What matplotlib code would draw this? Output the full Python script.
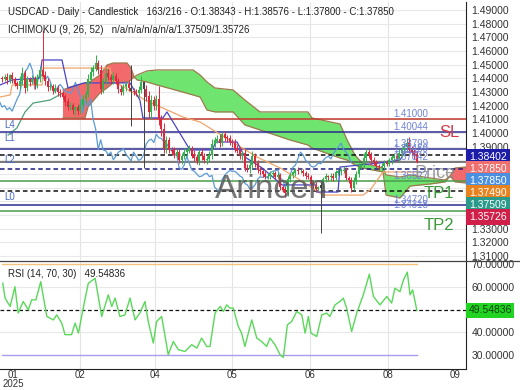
import numpy as np
import matplotlib
matplotlib.use("Agg")
import matplotlib.pyplot as plt

plt.rcParams['font.family'] = ['Liberation Sans', 'DejaVu Sans']

## ================================================================================================
## DATA (prices in 1e-4 above 1.0000)
## ================================================================================================
closes = [4395, 4410, 4385, 4420, 4395, 4360, 4345, 4380, 4440, 4330,
          4395, 4370, 4395, 4350, 4400, 4455, 4420, 4380, 4335, 4345,
          4310, 4325, 4300, 4290, 4265, 4230, 4190, 4200, 4170, 4185,
          4160, 4205, 4250, 4285, 4390, 4445, 4470, 4510, 4460, 4320,
          4375, 4440, 4410, 4385, 4415, 4380, 4320, 4300, 4335, 4355,
          4330, 4305, 4300, 4290, 4315, 4370, 4320, 4265, 4150, 4240,
          4195, 4250, 4100, 4030, 3880, 3950, 3875, 3870, 3840, 3860,
          3805, 3830, 3860, 3870, 3885, 3845, 3820, 3795, 3860, 3830,
          3800, 3810, 3840, 3920, 3945, 3955, 3930, 3990, 3965, 3960,
          3935, 3925, 3890, 3870, 3835, 3850, 3745, 3735, 3765, 3830,
          3780, 3730, 3720, 3700, 3680, 3685, 3700, 3705, 3680, 3690,
          3605, 3585, 3560, 3660, 3690, 3710, 3725, 3720, 3720, 3705,
          3685, 3675, 3630, 3620, 3590, 3600, 3620, 3660, 3680, 3675,
          3685, 3670, 3710, 3720, 3725, 3730, 3670, 3655, 3600, 3650,
          3700, 3750, 3765, 3815, 3860, 3840, 3800, 3785, 3760, 3750,
          3760, 3780, 3775, 3800, 3820, 3830, 3810, 3850, 3875, 3900,
          3925, 3880, 3860, 3834, 3785]
first_open = 4400
up_wick = [15, 20, 30, 12, 25, 18, 22, 35, 40, 20,
           25, 15, 30, 20, 28, 35, 298, 30, 25, 20,
           15, 30, 25, 20, 18, 22, 25, 30, 20, 15,
           25, 40, 30, 20, 45, 35, 30, 60, 25, 40,
           30, 35, 25, 20, 30, 25, 20, 30, 25, 20,
           35, 168, 25, 20, 30, 45, 5, 30, 40, 35,
           30, 25, 90, 30, 40, 30, 20, 25, 30, 20,
           25, 20, 30, 15, 25, 20, 30, 25, 20, 30,
           25, 20, 30, 35, 25, 30, 40, 20, 25, 20,
           25, 20, 30, 20, 25, 20, 30, 25, 20, 35,
           20, 25, 20, 15, 20, 25, 20, 15, 20, 25,
           20, 15, 20, 25, 20, 15, 20, 25, 20, 15,
           20, 25, 15, 20, 25, 15, 20, 20, 25, 15,
           20, 25, 20, 15, 20, 25, 20, 15, 20, 25,
           25, 30, 25, 35, 30, 25, 20, 25, 20, 15,
           20, 25, 20, 15, 20, 25, 20, 30, 25, 30,
           35, 45, 25, 20, 24]
down_wick = [20, 15, 25, 20, 30, 15, 20, 25, 30, 40,
             20, 25, 15, 30, 20, 25, 10, 30, 25, 20,
             25, 20, 30, 25, 20, 30, 25, 20, 30, 35,
             25, 20, 25, 30, 20, 25, 30, 20, 25, 35,
             30, 25, 20, 30, 25, 20, 30, 25, 20, 30,
             25, 254, 25, 20, 30, 25, 576, 30, 40, 45,
             30, 25, 40, 50, 30, 25, 20, 30, 25, 20,
             25, 30, 20, 25, 20, 30, 25, 20, 30, 25,
             20, 25, 20, 30, 25, 20, 30, 25, 20, 25,
             20, 25, 30, 20, 25, 30, 25, 20, 30, 25,
             30, 20, 25, 20, 15, 20, 25, 20, 15, 20,
             25, 20, 30, 20, 15, 20, 25, 20, 15, 20,
             20, 15, 20, 25, 20, 15, 330, 20, 15, 20,
             25, 20, 15, 20, 25, 20, 15, 20, 30, 20,
             25, 20, 15, 20, 25, 20, 25, 20, 15, 20,
             25, 20, 15, 20, 25, 20, 15, 20, 25, 20,
             30, 25, 20, 25, 5]
dark_bars = [51, 56, 126]

# Ichimoku lines (bar index, price)
tenkan_x = [-0.8, 4.0, 15.0, 15.8, 23.7, 26.1, 32.4, 50.6, 54.5, 55.7, 63.6, 65.2, 74.3, 83.0,
            84.6, 92.9, 96.0, 102.8, 110.7, 124.1, 124.5, 132.8, 133.6, 149.4, 157.3, 159.3, 164.4]
tenkan_y = [1.4351, 1.4388, 1.4402, 1.4534, 1.4534, 1.4329, 1.4366, 1.4366, 1.4241, 1.4110, 1.4110,
            1.4154, 1.3876, 1.3876, 1.3934, 1.3934, 1.3824, 1.3744, 1.3620, 1.3620, 1.3568, 1.3568,
            1.3751, 1.3781, 1.3802, 1.3861, 1.3861]
kijun_x = [-0.8, 3.2, 4.0, 15.8, 16.2, 42.7, 43.5, 56.5, 71.5, 78.3, 100.8, 109.9, 117.8, 126.9,
           142.7, 145.5, 150.6, 164.4]
kijun_y = [1.4263, 1.4278, 1.4351, 1.4351, 1.4475, 1.4475, 1.4388, 1.4241, 1.4117, 1.4080, 1.3824,
           1.3744, 1.3656, 1.3546, 1.3546, 1.3583, 1.3715, 1.3715]
lead_x = [2.4, 5.9, 9.1, 12.3, 19.0, 24.1]
lead_y = [1.3985, 1.4037, 1.4154, 1.4219, 1.4241, 1.4293]
cloud_x = [24.1, 26.9, 32.8, 34.0, 38.7, 41.5, 43.9, 49.4, 51.0, 52.2, 53.4, 57.3, 61.3, 68.4, 75.5,
           78.3, 81.0, 84.2, 91.3, 96.0, 102.0, 113.8, 120.9, 122.5, 133.6, 136.4, 139.5, 142.3,
           150.6, 151.8, 157.3, 161.3, 169.2, 175.1, 177.1, 179.1, 183.4]
span_a = [1.4110, 1.4110, 1.4110, 1.4190, 1.4293, 1.4329, 1.4366, 1.4373, 1.4388, 1.4410, 1.4424,
          1.4454, 1.4461, 1.4461, 1.4461, 1.4424, 1.4373, 1.4329, 1.4315, 1.4241, 1.4154, 1.4154,
          1.4154, 1.4110, 1.4066, 1.3949, 1.3839, 1.3781, 1.3744, 1.3693, 1.3678, 1.3693, 1.3671,
          1.3656, 1.3685, 1.3642, 1.3634]
span_b = [1.4315, 1.4336, 1.4366, 1.4366, 1.4424, 1.4497, 1.4512, 1.4512, 1.4475, 1.4410, 1.4388,
          1.4373, 1.4351, 1.4315, 1.4278, 1.4263, 1.4168, 1.4154, 1.4154, 1.4059, 1.4022, 1.3949,
          1.3912, 1.3890, 1.3817, 1.3802, 1.3766, 1.3744, 1.3715, 1.3546, 1.3525, 1.3612, 1.3627,
          1.3642, 1.3685, 1.3744, 1.3751]

# Horizontal levels
levels = [1.41000, 1.40044, 1.38799, 1.38402, 1.37850, 1.37400, 1.36460, 1.35726, 1.34720, 1.34318]
level_colors = ['#c0392b', '#2b2b8f', '#2b2b8f', '#111111', '#555555', '#1a1a80', '#4c9c4c',
                '#111111', '#2b2b8f', '#4c9c4c']
level_styles = ['-', '-', '-', '--', '-', '--', '-', '--', '-', '-']
level_texts = ['1.41000', '1.40044', '1.38799', '1.38459', '1.37842', '', '1.36527', '', '1.34720', '1.34318']
side_tags = {'L4': 1.41000, 'L1': 1.40044, 'L2': 1.38402, 'L0': 1.35726}

# Right side value boxes (they cover the 1.34 .. 1.38 tick labels)
box_values = ['1.38402', '1.37850', '1.37850', '1.37490', '1.37509', '1.35726']
box_colors = ['#1c1ca8', '#f07070', '#4b90e0', '#e8821e', '#2a9a8a', '#d0204a']
price_ticks = [1.31, 1.32, 1.33, 1.39, 1.40, 1.41, 1.42, 1.43, 1.44, 1.45, 1.46, 1.47, 1.48, 1.49]

# RSI (bar index, value)
rsi_x = [0.3, 1.2, 3.2, 5.1, 6.4, 8.4, 10.4, 11.7, 13.4, 15.3, 17.7, 20.3, 21.6, 23.6, 24.9, 27.5,
         28.9, 30.2, 32.1, 34.1, 36.8, 39.4, 42.0, 43.4, 44.7, 46.6, 48.6, 50.6, 52.6, 54.5, 56.5,
         57.8, 59.8, 61.1, 63.1, 65.7, 67.7, 69.7, 72.3, 75.0, 77.0, 78.9, 80.9, 82.2, 84.2, 86.2,
         87.5, 88.8, 90.1, 91.4, 93.4, 94.7, 96.0, 98.7, 100.7, 102.6, 104.6, 105.9, 107.9, 109.9,
         111.2, 112.8, 114.5, 116.5, 118.5, 119.8, 121.1, 122.1, 124.4, 126.4, 128.3, 129.6, 131.6,
         133.6, 134.9, 136.2, 138.2, 140.2, 142.8, 145.2, 146.8, 149.4, 152.1, 154.0, 155.3, 157.3,
         158.7, 160.2, 161.3, 162.3, 164.0]
rsi_v = [61.5, 55.0, 51.3, 60.0, 48.4, 53.5, 49.8, 54.2, 54.2, 62.2, 46.9, 45.4, 47.6, 44.0, 38.9,
         38.9, 44.0, 39.6, 50.6, 61.5, 63.7, 46.9, 56.4, 51.3, 55.0, 46.9, 47.6, 55.0, 45.4, 48.4,
         53.5, 44.7, 35.2, 44.7, 46.9, 30.1, 35.9, 32.3, 31.5, 34.5, 33.0, 37.4, 33.7, 33.7, 48.4,
         51.3, 49.1, 52.0, 50.6, 50.6, 42.5, 39.6, 33.7, 45.4, 37.4, 35.9, 33.7, 37.4, 34.5, 30.1,
         28.9, 43.2, 44.7, 49.1, 47.6, 39.6, 46.9, 39.6, 38.1, 47.6, 48.4, 46.9, 52.0, 53.5, 55.0,
         50.6, 40.3, 48.4, 56.4, 65.5, 55.7, 52.0, 55.7, 52.8, 59.3, 57.8, 63.0, 66.4, 56.4, 58.6,
         49.55]
rsi_last = 49.54836

tick_pos = [4.3, 30.8, 60.5, 90.9, 121.7, 152.6, 179.1]
tick_labels = ['01\n2025', '02', '04', '05', '06', '08', '09']

## ================================================================================================
## FIGURE
## ================================================================================================
W, H = 520, 390
fig = plt.figure(figsize=(W / 100, H / 100), dpi=100)
ax = fig.add_axes([0, 1 - 260 / H, 466 / W, 258 / H])
ax_r = fig.add_axes([0, 1 - 369 / H, 466 / W, 108 / H], sharex=ax)

close = 1 + np.array(closes) / 10000
opens = np.concatenate([[1 + first_open / 10000], close[:-1]])
high = np.maximum(opens, close) + np.array(up_wick) / 10000
low = np.minimum(opens, close) - np.array(down_wick) / 10000
idx = np.arange(len(close))

ax.set_xlim(-0.8, 183.4)
ax.set_ylim(1.3071, 1.4958)

# grid
for t in tick_pos[1:-1]:
	ax.axvline(t, color='#e4e4e4', lw=0.8, zorder=0)
	ax_r.axvline(t, color='#e4e4e4', lw=0.8, zorder=0)
yt = np.round(np.arange(1.31, 1.4951, 0.01), 2)
for y in yt:
	ax.axhline(y, color='#e8e8e8', lw=0.8, zorder=0)

# cloud
ca, cb = np.array(span_a), np.array(span_b)
ax.fill_between(cloud_x, ca, cb, where=ca >= cb, interpolate=True, color='#6fe46f', lw=0, zorder=1)
ax.fill_between(cloud_x, ca, cb, where=ca < cb, interpolate=True, color='#f26a6c', lw=0, zorder=1)
ax.plot(cloud_x, span_a, color='#9c7a4e', lw=0.9, zorder=2)
ax.plot(cloud_x, span_b, color='#9c7a4e', lw=0.9, zorder=2)
ax.plot(lead_x, lead_y, color='#4f9f78', lw=0.9, zorder=2)

# levels
for lv, col, ls, txt in zip(levels, level_colors, level_styles, level_texts):
	ax.axhline(lv, color=col, ls=ls, lw=1.1, dashes=(3, 2) if ls == '--' else (None, None), zorder=3)
	if txt:
		ax.text(154.6, lv + 0.0004, txt, fontsize=7, color='#6f83d8', va='bottom', zorder=6)
for tag, lv in side_tags.items():
	ax.text(0.8, lv - 0.0003, tag, fontsize=7, color='#4a6bc4', va='top', zorder=6)

# lines
ax.plot(idx - 26, close, color='#5b9bd5', lw=0.9, zorder=4)
ax.plot(kijun_x, kijun_y, color='#f0a56a', lw=0.9, zorder=4)
ax.plot(tenkan_x, tenkan_y, color='#4a44c8', lw=0.9, zorder=4)

# candles
cols = np.where(close >= opens, '#2fb34a', '#e0283c').astype(object)
for b in dark_bars:
	cols[b] = '#444444'
ax.vlines(idx, low, high, colors=cols, lw=0.7, zorder=5)
ax.vlines(idx, np.minimum(opens, close), np.maximum(opens, close) + 0.0002, colors=cols, lw=1.5, zorder=5)

# big annotations
ax.text(106.7, 1.3583, 'Arincen', fontsize=24, color='#555555', alpha=0.8, ha='center', va='center', zorder=7)
ax.text(177, 1.40044, 'SL', fontsize=12, color='#d03848', ha='center', va='center', zorder=7)
ax.text(172.7, 1.3561, 'TP1', fontsize=12, color='#3a9a3a', ha='center', va='center', zorder=7)
ax.text(172.7, 1.3320, 'TP2', fontsize=12, color='#3a9a3a', ha='center', va='center', zorder=7)
ax.text(171, 1.3707, 'Price', fontsize=13, color='#8a8a8a', alpha=0.85, ha='center', va='center', zorder=7)

ax.yaxis.tick_right()
ax.set_yticks(price_ticks)
ax.set_yticklabels([f"{v:.5f}" for v in price_ticks])
ax.tick_params(axis='y', length=0, pad=4, labelsize=7.5, labelcolor='#333333')
ax.tick_params(axis='x', length=0, labelbottom=False)
for s in ['top', 'left', 'bottom']:
	ax.spines[s].set_visible(False)
ax.spines['right'].set_color('#222222')

# RSI panel
ax_r.set_ylim(23.8, 71.3)
for g in [40, 60]:
	ax_r.axhline(g, color='#e8e8e8', lw=0.8, zorder=0)
ax_r.plot([0, idx[-1]], [70, 70], color='#f5c27e', lw=1.0)
ax_r.plot([0, idx[-1]], [30, 30], color='#a99ce8', lw=1.0)
ax_r.axhline(rsi_last, color='#111111', ls='--', dashes=(3, 2), lw=0.9)
ax_r.plot(rsi_x, rsi_v, color='#5ad85a', lw=1.0)
ax_r.yaxis.tick_right()
rt = [30, 40, 60, 70]
ax_r.set_yticks(rt)
ax_r.set_yticklabels([f"{v:.5f}" for v in rt])
ax_r.tick_params(axis='y', length=0, pad=4, labelsize=7.5, labelcolor='#333333')
ax_r.set_xticks(tick_pos)
ax_r.set_xticklabels(tick_labels, fontsize=7, color='#333333', linespacing=0.85)
ax_r.tick_params(axis='x', length=0, pad=1)
ax_r.spines['top'].set_visible(False)
ax_r.spines['left'].set_visible(False)
ax_r.spines['right'].set_color('#222222')
ax_r.spines['bottom'].set_color('#222222')
ax_r.text(1.005, (rsi_last - 23.8) / (71.3 - 23.8), f"{rsi_last:.5f}", transform=ax_r.transAxes,
	fontsize=7.5, color='#124012', va='center', ha='left',
	bbox=dict(boxstyle='square,pad=0.25', fc='#22d422', ec='none'))

# separator between panels
fig.add_artist(plt.Line2D([0, 1], [1 - 260.5 / H, 1 - 260.5 / H], color='#444444', lw=0.9))

# right value boxes
for i, (val, col) in enumerate(zip(box_values, box_colors)):
	fig.text(469 / W, 1 - (157 + 12 * i) / H, val, fontsize=7.5, color='white', va='center', ha='left',
		bbox=dict(boxstyle='square,pad=0.3', fc=col, ec='none'))

# header texts
fig.text(8 / W, 1 - 12 / H, "USDCAD - Daily - Candlestick   163/216 - O:1.38343 - H:1.38576 - L:1.37800 - C:1.37850",
	fontsize=7, color='#222222', va='center')
fig.text(8 / W, 1 - 30 / H, "ICHIMOKU (9, 26, 52)   n/a/n/a/n/a/n/a/1.37509/1.35726",
	fontsize=7, color='#222222', va='center')
fig.text(8 / W, 1 - 274 / H, "RSI (14, 70, 30)   49.54836", fontsize=7, color='#222222', va='center')

fig.savefig("out.png", dpi=100)
